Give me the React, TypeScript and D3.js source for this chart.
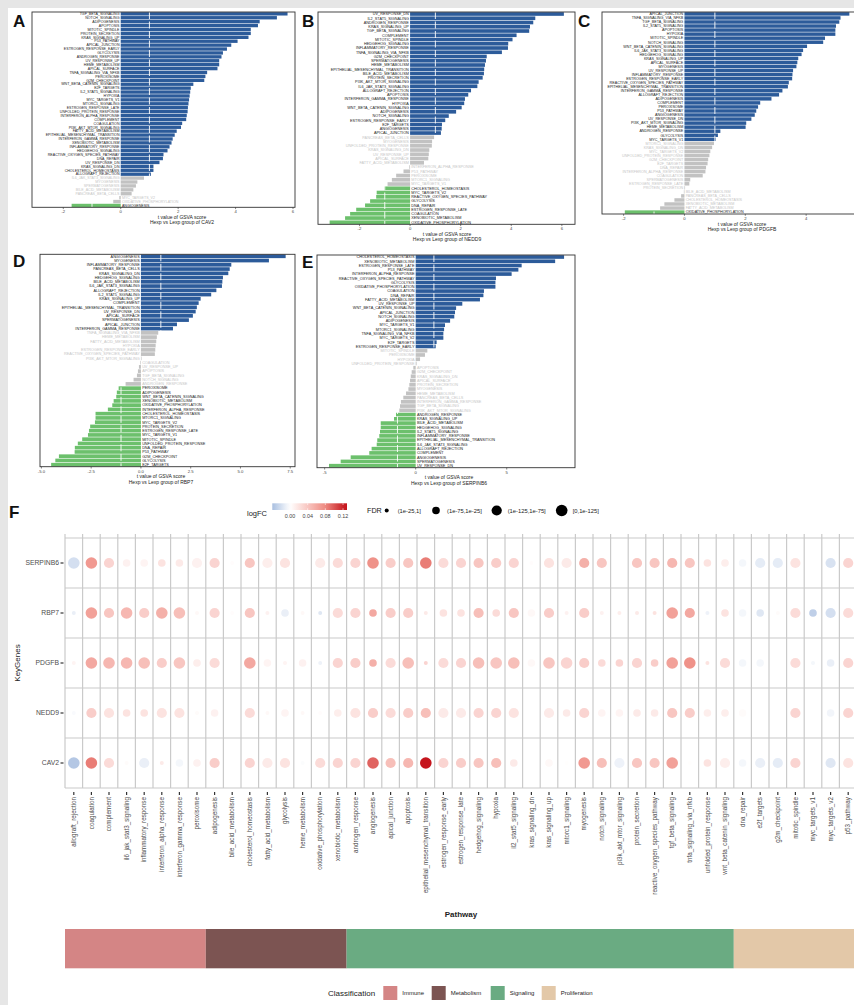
import React from "react";
import * as d3 from "d3";

// ---- panels A-E: GSVA t values (top to bottom) ----
const cav2Terms = ["TGF_BETA_SIGNALING","NOTCH_SIGNALING","ADIPOGENESIS","APOPTOSIS","MITOTIC_SPINDLE","PROTEIN_SECRETION","KRAS_SIGNALING_UP","P53_PATHWAY","APICAL_JUNCTION","ESTROGEN_RESPONSE_EARLY","GLYCOLYSIS","ANDROGEN_RESPONSE","UV_RESPONSE_UP","HEME_METABOLISM","APICAL_SURFACE","TNFA_SIGNALING_VIA_NFKB","PEROXISOME","G2M_CHECKPOINT","WNT_BETA_CATENIN_SIGNALING","E2F_TARGETS","IL2_STAT5_SIGNALING","HYPOXIA","MYC_TARGETS_V1","MTORC1_SIGNALING","ESTROGEN_RESPONSE_LATE","UNFOLDED_PROTEIN_RESPONSE","INTERFERON_ALPHA_RESPONSE","COMPLEMENT","COAGULATION","PI3K_AKT_MTOR_SIGNALING","FATTY_ACID_METABOLISM","EPITHELIAL_MESENCHYMAL_TRANSITION","INTERFERON_GAMMA_RESPONSE","XENOBIOTIC_METABOLISM","INFLAMMATORY_RESPONSE","HEDGEHOG_SIGNALING","REACTIVE_OXYGEN_SPECIES_PATHWAY","DNA_REPAIR","UV_RESPONSE_DN","KRAS_SIGNALING_DN","CHOLESTEROL_HOMEOSTASIS","ALLOGRAFT_REJECTION","IL6_JAK_STAT3_SIGNALING","MYOGENESIS","SPERMATOGENESIS","BILE_ACID_METABOLISM","PANCREAS_BETA_CELLS","MYC_TARGETS_V2","OXIDATIVE_PHOSPHORYLATION","ANGIOGENESIS"];
const cav2T = [5.81,5.44,4.84,4.78,4.53,4.53,4.45,4.07,3.85,3.7,3.56,3.51,3.43,3.43,3.37,3.01,2.95,2.91,2.53,2.44,2.42,2.4,2.38,2.36,2.34,2.33,2.3,2.28,2.14,2.1,1.95,1.88,1.81,1.77,1.7,1.63,1.49,1.47,1.35,1.14,1.14,1.05,0.81,0.58,0.53,0.44,0.38,-0.05,-0.26,-1.71];

const nedd9Terms = ["UV_RESPONSE_DN","IL2_STAT5_SIGNALING","ANDROGEN_RESPONSE","KRAS_SIGNALING_UP","TGF_BETA_SIGNALING","COMPLEMENT","MITOTIC_SPINDLE","HEDGEHOG_SIGNALING","INFLAMMATORY_RESPONSE","TNFA_SIGNALING_VIA_NFKB","G2M_CHECKPOINT","SPERMATOGENESIS","HEME_METABOLISM","EPITHELIAL_MESENCHYMAL_TRANSITION","BILE_ACID_METABOLISM","PROTEIN_SECRETION","PI3K_AKT_MTOR_SIGNALING","IL6_JAK_STAT3_SIGNALING","ALLOGRAFT_REJECTION","APOPTOSIS","INTERFERON_GAMMA_RESPONSE","HYPOXIA","WNT_BETA_CATENIN_SIGNALING","ADIPOGENESIS","NOTCH_SIGNALING","ESTROGEN_RESPONSE_EARLY","E2F_TARGETS","ANGIOGENESIS","APICAL_JUNCTION","PANCREAS_BETA_CELLS","MYOGENESIS","UNFOLDED_PROTEIN_RESPONSE","KRAS_SIGNALING_DN","UV_RESPONSE_UP","APICAL_SURFACE","FATTY_ACID_METABOLISM","INTERFERON_ALPHA_RESPONSE","P53_PATHWAY","PEROXISOME","MTORC1_SIGNALING","MYC_TARGETS_V1","CHOLESTEROL_HOMEOSTASIS","MYC_TARGETS_V2","REACTIVE_OXYGEN_SPECIES_PATHWAY","GLYCOLYSIS","DNA_REPAIR","ESTROGEN_RESPONSE_LATE","COAGULATION","XENOBIOTIC_METABOLISM","OXIDATIVE_PHOSPHORYLATION"];
const nedd9T = [6.08,4.95,4.87,4.74,4.71,4.21,4.05,3.88,3.87,3.63,3.03,3.0,2.96,2.93,2.92,2.87,2.71,2.66,2.41,2.3,2.17,2.14,2.04,1.82,1.53,1.39,1.26,1.25,1.22,0.95,0.87,0.86,0.76,0.74,0.72,0.55,-0.03,-0.26,-0.55,-0.72,-0.89,-1.02,-1.32,-1.34,-1.58,-1.78,-2.13,-2.37,-2.57,-3.18];

const pdgfbTerms = ["APICAL_JUNCTION","TNFA_SIGNALING_VIA_NFKB","TGF_BETA_SIGNALING","IL2_STAT5_SIGNALING","APOPTOSIS","HYPOXIA","MITOTIC_SPINDLE","NOTCH_SIGNALING","WNT_BETA_CATENIN_SIGNALING","IL6_JAK_STAT3_SIGNALING","HEDGEHOG_SIGNALING","KRAS_SIGNALING_UP","APICAL_SURFACE","MYOGENESIS","UV_RESPONSE_UP","INFLAMMATORY_RESPONSE","ESTROGEN_RESPONSE_EARLY","REACTIVE_OXYGEN_SPECIES_PATHWAY","EPITHELIAL_MESENCHYMAL_TRANSITION","INTERFERON_GAMMA_RESPONSE","ALLOGRAFT_REJECTION","ADIPOGENESIS","COMPLEMENT","PEROXISOME","P53_PATHWAY","ANGIOGENESIS","UV_RESPONSE_DN","PI3K_AKT_MTOR_SIGNALING","HEME_METABOLISM","ANDROGEN_RESPONSE","GLYCOLYSIS","MYC_TARGETS_V1","MTORC1_SIGNALING","KRAS_SIGNALING_DN","MYC_TARGETS_V2","UNFOLDED_PROTEIN_RESPONSE","G2M_CHECKPOINT","E2F_TARGETS","DNA_REPAIR","INTERFERON_ALPHA_RESPONSE","COAGULATION","SPERMATOGENESIS","ESTROGEN_RESPONSE_LATE","PROTEIN_SECRETION","BILE_ACID_METABOLISM","PANCREAS_BETA_CELLS","CHOLESTEROL_HOMEOSTASIS","XENOBIOTIC_METABOLISM","FATTY_ACID_METABOLISM","OXIDATIVE_PHOSPHORYLATION"];
const pdgfbT = [5.42,5.13,5.09,4.98,4.96,4.96,4.62,4.56,4.03,3.9,3.85,3.74,3.71,3.68,3.57,3.55,3.54,3.43,3.4,3.22,3.11,2.86,2.49,2.42,2.36,2.31,2.2,2.03,2.01,1.18,1.1,1.03,0.97,0.91,0.85,0.82,0.78,0.76,0.71,0.69,0.6,0.19,0.16,0.02,-0.02,-0.11,-0.33,-0.66,-0.8,-1.96];

const rbp7Terms = ["ANGIOGENESIS","MYOGENESIS","INFLAMMATORY_RESPONSE","PANCREAS_BETA_CELLS","KRAS_SIGNALING_DN","HEDGEHOG_SIGNALING","BILE_ACID_METABOLISM","IL6_JAK_STAT3_SIGNALING","ALLOGRAFT_REJECTION","IL2_STAT5_SIGNALING","KRAS_SIGNALING_UP","COMPLEMENT","EPITHELIAL_MESENCHYMAL_TRANSITION","UV_RESPONSE_DN","APICAL_SURFACE","SPERMATOGENESIS","APICAL_JUNCTION","INTERFERON_GAMMA_RESPONSE","TNFA_SIGNALING_VIA_NFKB","HEME_METABOLISM","FATTY_ACID_METABOLISM","HYPOXIA","ESTROGEN_RESPONSE_EARLY","REACTIVE_OXYGEN_SPECIES_PATHWAY","PI3K_AKT_MTOR_SIGNALING","COAGULATION","UV_RESPONSE_UP","APOPTOSIS","TGF_BETA_SIGNALING","NOTCH_SIGNALING","ANDROGEN_RESPONSE","PEROXISOME","ADIPOGENESIS","WNT_BETA_CATENIN_SIGNALING","XENOBIOTIC_METABOLISM","OXIDATIVE_PHOSPHORYLATION","INTERFERON_ALPHA_RESPONSE","CHOLESTEROL_HOMEOSTASIS","MTORC1_SIGNALING","MYC_TARGETS_V2","PROTEIN_SECRETION","ESTROGEN_RESPONSE_LATE","MYC_TARGETS_V1","MITOTIC_SPINDLE","UNFOLDED_PROTEIN_RESPONSE","DNA_REPAIR","P53_PATHWAY","G2M_CHECKPOINT","GLYCOLYSIS","E2F_TARGETS"];
const rbp7T = [7.27,6.43,4.54,4.46,4.39,4.12,4.09,4.07,3.79,3.53,3.0,2.9,2.81,2.75,2.61,2.41,1.81,1.61,0.87,0.8,0.77,0.74,0.72,0.7,0.03,-0.03,-0.1,-0.15,-0.2,-0.37,-0.77,-1.12,-1.21,-1.24,-1.37,-1.44,-1.66,-2.28,-2.28,-2.31,-2.55,-2.61,-2.66,-2.95,-3.17,-3.32,-3.33,-4.12,-4.3,-4.51];

const serpinb6Terms = ["CHOLESTEROL_HOMEOSTASIS","XENOBIOTIC_METABOLISM","ESTROGEN_RESPONSE_LATE","P53_PATHWAY","INTERFERON_ALPHA_RESPONSE","REACTIVE_OXYGEN_SPECIES_PATHWAY","GLYCOLYSIS","OXIDATIVE_PHOSPHORYLATION","COAGULATION","DNA_REPAIR","FATTY_ACID_METABOLISM","UV_RESPONSE_UP","WNT_BETA_CATENIN_SIGNALING","APICAL_JUNCTION","NOTCH_SIGNALING","ADIPOGENESIS","MYC_TARGETS_V1","MTORC1_SIGNALING","TNFA_SIGNALING_VIA_NFKB","MYC_TARGETS_V2","E2F_TARGETS","ESTROGEN_RESPONSE_EARLY","MITOTIC_SPINDLE","PEROXISOME","HYPOXIA","UNFOLDED_PROTEIN_RESPONSE","APOPTOSIS","G2M_CHECKPOINT","KRAS_SIGNALING_DN","APICAL_SURFACE","PROTEIN_SECRETION","MYOGENESIS","HEME_METABOLISM","PANCREAS_BETA_CELLS","INTERFERON_GAMMA_RESPONSE","TGF_BETA_SIGNALING","PI3K_AKT_MTOR_SIGNALING","ANDROGEN_RESPONSE","KRAS_SIGNALING_UP","BILE_ACID_METABOLISM","HEDGEHOG_SIGNALING","IL2_STAT5_SIGNALING","INFLAMMATORY_RESPONSE","EPITHELIAL_MESENCHYMAL_TRANSITION","IL6_JAK_STAT3_SIGNALING","ALLOGRAFT_REJECTION","COMPLEMENT","ANGIOGENESIS","SPERMATOGENESIS","UV_RESPONSE_DN"];
const serpinb6T = [8.15,7.66,5.82,5.64,5.27,4.41,4.38,4.38,3.75,3.72,3.53,2.56,2.22,2.16,2.12,1.89,1.61,1.56,1.52,1.52,1.15,1.1,0.64,0.51,0.24,0.05,-0.13,-0.22,-0.27,-0.31,-0.35,-0.4,-0.53,-0.68,-0.81,-0.86,-0.9,-1.08,-1.19,-1.92,-1.92,-1.96,-2.0,-2.11,-2.14,-2.42,-2.55,-3.57,-4.12,-4.76];

// ---- panel F: dot plot ----
const genes = ["SERPINB6", "RBP7", "PDGFB", "NEDD9", "CAV2"];
const immunePathways = ["allograft_rejection","coagulation","complement","il6_jak_stat3_signaling","inflammatory_response","interferon_alpha_response","interferon_gamma_response","peroxisome"];
const metabolismPathways = ["adipogenesis","bile_acid_metabolism","cholesterol_homeostasis","fatty_acid_metabolism","glycolysis","heme_metabolism","oxidative_phosphorylation","xenobiotic_metabolism"];
const signalingPathways = ["androgen_response","angiogenesis","apical_junction","apoptosis","epithelial_mesenchymal_transition","estrogen_response_early","estrogen_response_late","hedgehog_signaling","hypoxia","il2_stat5_signaling","kras_signaling_dn","kras_signaling_up","mtorc1_signaling","myogenesis","notch_signaling","pi3k_akt_mtor_signaling","protein_secretion","reactive_oxygen_species_pathway","tgf_beta_signaling","tnfa_signaling_via_nfkb","unfolded_protein_response","wnt_beta_catenin_signaling"];
const proliferationPathways = ["dna_repair","e2f_targets","g2m_checkpoint","mitotic_spindle","myc_targets_v1","myc_targets_v2","p53_pathway"];
const classNames = ["Immune", "Metabolism", "Signaling", "Proliferation"];
const classColors = ["#d48585", "#7c5452", "#6aab82", "#e3c8a8"];

const logFC: Record<string, number[]> = {
  SERPINB6: [-0.02,0.07,0.03,0.01,0.008,0.02,0.015,0.01,0.03,0.002,0.04,0.012,0.02,0,0.015,0.025,0.03,0.075,0.035,0.04,0.085,0.025,0.03,0.04,0.035,0.03,0.002,0.02,0.015,0.055,0.04,0,0.04,0.04,0.05,0.04,0.02,0.012,-0.005,-0.012,-0.012,0.02,0,-0.018,0.03],
  RBP7: [-0.01,0.065,0.04,0.05,0.035,0.055,0.045,0.005,0.03,0.002,0.04,0.01,-0.01,0.005,-0.015,0.025,0.03,0.06,0.035,0.035,0.015,0.02,0.02,0.045,0.025,0.04,0.005,0.035,0.01,0.035,0.01,0.012,0.015,0.02,0.065,0.06,-0.008,0.02,-0.005,-0.015,0.003,0.025,-0.03,-0.02,0.025],
  PDGFB: [0.008,0.06,0.05,0.05,0.045,0.035,0.04,0.012,0.025,0,0.06,0.008,0.008,0.01,-0.008,0.03,0.035,0.055,0.025,0.045,0.03,0.025,0.03,0.045,0.04,0.045,0.005,0.04,0.03,0.035,0.025,0.03,0.03,0.035,0.065,0.075,0.02,0.025,-0.005,-0.005,0,0.025,-0.005,-0.01,0.03],
  NEDD9: [-0.003,0.035,0.02,0.02,0.02,0.02,0.02,0.003,0.01,0,0.025,0.005,0.008,0.005,0.002,0.012,0.02,0.035,0.025,0.035,0.045,0.015,0.015,0.03,0.03,0.02,0,0.015,0.015,0.03,0.008,0.008,0.015,0.015,0.04,0.035,0.012,0.012,0.003,0,0,0.03,0,-0.006,0.03],
  CAV2: [-0.035,0.085,0.025,0.003,-0.01,0.015,-0.005,0.01,0.035,0,0.03,0.015,0.02,-0.002,0.025,0.03,0.03,0.095,0.045,0.05,0.125,0.03,0.035,0.04,0.045,0.015,0,0.005,0.001,0.07,0.045,-0.008,0.04,0.04,0.065,0.001,0.02,0.012,-0.005,-0.01,-0.012,0.03,0,-0.015,0.02],
};
// FDR bin index: 0 (1e-25,1], 1 (1e-75,1e-25], 2 (1e-125,1e-75], 3 [0,1e-125]
const fdrBin: Record<string, number[]> = {
  SERPINB6: [3,3,2,1,1,1,1,2,2,0,2,2,2,0,2,2,2,3,2,2,3,2,2,2,2,2,0,2,2,2,2,0,2,2,2,2,1,1,1,2,2,2,0,2,2],
  RBP7: [0,3,2,3,2,3,3,0,2,0,2,0,1,0,0,2,2,1,2,2,0,1,1,2,1,2,1,2,0,2,0,0,0,0,3,2,0,1,1,1,0,2,1,2,2],
  PDGFB: [0,3,3,3,3,2,3,1,2,0,3,1,0,1,0,2,2,1,2,3,0,2,2,3,3,3,1,3,3,2,1,1,2,1,3,3,0,2,1,1,0,2,0,1,2],
  NEDD9: [0,2,2,1,1,2,2,0,1,0,2,0,1,0,0,1,2,2,2,2,2,2,2,2,2,2,0,2,1,2,1,1,1,1,2,2,1,1,1,0,0,2,0,1,2],
  CAV2: [3,3,2,0,2,0,1,1,2,0,2,2,2,0,2,2,2,3,2,2,3,2,2,2,2,1,0,1,0,3,2,2,2,2,3,0,1,2,1,2,2,2,0,2,2],
};
const fdrLabels = ["(1e-25,1]", "(1e-75,1e-25]", "(1e-125,1e-75]", "[0,1e-125]"];
const colorTicks = [0, 0.04, 0.08, 0.12];

const FONT = "'Liberation Sans', Arial, Helvetica, sans-serif";
const BLUE = "#2c5b9a";
const GREEN = "#6cc06c";
const GRAY = "#c2c2c2";

type PanelProps = {
  terms: string[]; values: number[]; gene: string;
  left: number; right: number; top: number; bottom: number;
  domain: [number, number]; ticks: number[]; fmt: (d: number) => string;
  titleX: number; fs: number;
};

function BarPanel(p: PanelProps) {
  const x = d3.scaleLinear().domain(p.domain).range([p.left, p.right]);
  const y = d3.scaleBand().domain(p.terms).range([p.top, p.bottom]).paddingInner(0.14).paddingOuter(0.04);
  const x0 = x(0);
  const fill = (v: number) => (v > 1 ? BLUE : v < -1 ? GREEN : GRAY);
  return (
    <g>
      {p.terms.map((t, i) => {
        const v = p.values[i];
        return (
          <rect key={t} x={Math.min(x0, x(v))} y={y(t)} width={Math.abs(x(v) - x0)}
            height={y.bandwidth()} fill={fill(v)} />
        );
      })}
      {[1, -1].map((d) => (
        <line key={d} x1={x(d)} x2={x(d)} y1={p.top} y2={p.bottom} stroke="#fff"
          strokeWidth={0.9} strokeDasharray="7,2.5" />
      ))}
      {p.terms.map((t, i) => {
        const v = p.values[i];
        return (
          <text key={"l" + t} x={v >= 0 ? x0 - 1.2 : x0 + 1.2} y={(y(t) as number) + y.bandwidth() / 2}
            dy="0.35em" textAnchor={v >= 0 ? "end" : "start"} fontSize={p.fs}
            fill={Math.abs(v) > 1 ? "#1a1a1a" : "#c6c6c6"}>{t}</text>
        );
      })}
      <rect x={p.left} y={p.top} width={p.right - p.left} height={p.bottom - p.top}
        fill="none" stroke="#333" strokeWidth={0.9} />
      {p.ticks.map((d) => (
        <g key={d}>
          <line x1={x(d)} x2={x(d)} y1={p.bottom} y2={p.bottom + 1.8} stroke="#333" strokeWidth={0.6} />
          <text x={x(d)} y={p.bottom + 6} textAnchor="middle" fontSize={4.2} fill="#444">{p.fmt(d)}</text>
        </g>
      ))}
      <text x={p.titleX} y={p.bottom + 11.5} textAnchor="middle" fontSize={5} fill="#222">t value of GSVA score</text>
      <text x={p.titleX} y={p.bottom + 16.8} textAnchor="middle" fontSize={5} fill="#222">{`Hexp vs Lexp group of ${p.gene}`}</text>
    </g>
  );
}

function DotPlot() {
  const hallmarks = [...immunePathways, ...metabolismPathways, ...signalingPathways, ...proliferationPathways];
  const groups = [immunePathways, metabolismPathways, signalingPathways, proliferationPathways];
  const colW = 17.6;
  const xs = d3.scaleBand().domain(hallmarks).range([65, 65 + colW * hallmarks.length]);
  const ys = d3.scaleBand().domain(genes).range([538, 788]);
  const color = d3.scaleLinear<string>()
    .domain([-0.04, 0, 0.04, 0.08, 0.125])
    .range(["#a9bfe0", "#ffffff", "#f8c6c1", "#ee8a81", "#c5151d"])
    .clamp(true);
  const size = d3.scaleOrdinal<number, number>().domain([0, 1, 2, 3]).range([2, 3.8, 5.1, 5.8]);
  const cbar = d3.scaleLinear().domain([-0.04, 0.129]).range([272.3, 347]);
  const gradStops = d3.range(0, 1.0001, 0.05).map((t) => cbar.domain()[0] + t * (cbar.domain()[1] - cbar.domain()[0]));
  const fdrX = [386.7, 436, 496.7, 561.7];
  const legendY = 510.5;
  const lastX = 65 + colW * hallmarks.length;
  return (
    <g>
      <defs>
        <linearGradient id="lfc" x1="0" x2="1" y1="0" y2="0">
          {gradStops.map((v, i) => (
            <stop key={i} offset={`${(i / (gradStops.length - 1)) * 100}%`} stopColor={color(v)} />
          ))}
        </linearGradient>
      </defs>
      {/* legends */}
      <text x={247} y={516} fontSize={7.5} fill="#222">logFC</text>
      <rect x={cbar.range()[0]} y={503.3} width={cbar.range()[1] - cbar.range()[0]} height={6.7} fill="url(#lfc)" />
      {colorTicks.map((d) => (
        <g key={d}>
          <line x1={cbar(d)} x2={cbar(d)} y1={503.3} y2={505} stroke="#fff" strokeWidth={0.6} />
          <line x1={cbar(d)} x2={cbar(d)} y1={508.3} y2={510} stroke="#fff" strokeWidth={0.6} />
          <text x={cbar(d)} y={518} textAnchor="middle" fontSize={5.4} fill="#444">{d.toFixed(2)}</text>
        </g>
      ))}
      <text x={367} y={legendY} dy="0.35em" fontSize={7.2} fill="#222">FDR</text>
      {fdrLabels.map((l, i) => (
        <g key={l}>
          <circle cx={fdrX[i]} cy={legendY} r={size(i)} fill="#000" />
          <text x={fdrX[i] + 11} y={legendY} dy="0.35em" fontSize={5.8} fill="#222">{l}</text>
        </g>
      ))}
      {/* grid */}
      {hallmarks.map((h) => (
        <line key={"v" + h} x1={xs(h)} x2={xs(h)} y1={534} y2={788} stroke="#cacaca" strokeWidth={1.2} />
      ))}
      <line x1={lastX} x2={lastX} y1={534} y2={788} stroke="#cacaca" strokeWidth={1.2} />
      {[...genes, "end"].map((g, i) => (
        <line key={"h" + g} x1={65} x2={lastX} y1={538 + i * ys.bandwidth()} y2={538 + i * ys.bandwidth()}
          stroke="#cacaca" strokeWidth={1.2} />
      ))}
      {genes.map((g) =>
        hallmarks.map((h, j) => (
          <circle key={g + h} cx={(xs(h) as number) + xs.bandwidth() / 2}
            cy={(ys(g) as number) + ys.bandwidth() / 2}
            r={size(fdrBin[g][j])} fill={color(logFC[g][j])} />
        ))
      )}
      {/* y axis */}
      {genes.map((g) => {
        const cy = (ys(g) as number) + ys.bandwidth() / 2;
        return (
          <g key={"y" + g}>
            <line x1={60.5} x2={63.5} y1={cy} y2={cy} stroke="#333" strokeWidth={1.2} />
            <text x={59} y={cy} dy="0.35em" textAnchor="end" fontSize={6.8} fill="#4d4d4d">{g}</text>
          </g>
        );
      })}
      <text transform="translate(20,663) rotate(-90)" textAnchor="middle" fontSize={8} fill="#222">KeyGenes</text>
      {/* x axis */}
      {hallmarks.map((h) => {
        const cx = (xs(h) as number) + xs.bandwidth() / 2;
        return (
          <g key={"x" + h}>
            <line x1={cx} x2={cx} y1={792} y2={795} stroke="#333" strokeWidth={1.2} />
            <text transform={`translate(${cx},797) rotate(-90)`} dy="0.35em" textAnchor="end"
              fontSize={6.3} fill="#4d4d4d">{h}</text>
          </g>
        );
      })}
      <text x={(65 + lastX) / 2} y={917} textAnchor="middle" fontSize={8} fontWeight="bold" fill="#222">Pathway</text>
      {/* classification strip */}
      {groups.map((grp, i) => (
        <rect key={classNames[i]} x={xs(grp[0])} y={929}
          width={(xs(grp[grp.length - 1]) as number) + xs.bandwidth() - (xs(grp[0]) as number)}
          height={39.3} fill={classColors[i]} />
      ))}
      <text x={328} y={993} dy="0.35em" fontSize={8} fill="#222">Classification</text>
      {classNames.map((c, i) => {
        const lx = [383.3, 431.7, 490.7, 541.7][i];
        return (
          <g key={"lg" + c}>
            <rect x={lx} y={986} width={14} height={14} fill={classColors[i]} />
            <text x={lx + 19} y={993} dy="0.35em" fontSize={6} fill="#222">{c}</text>
          </g>
        );
      })}
    </g>
  );
}

export default function App() {
  const one = (d: number) => d.toFixed(1);
  const int = (d: number) => String(d);
  return (
    <>
      <style>{`body{margin:0}`}</style>
      <svg width={854} height={1005} style={{ display: "block", fontFamily: FONT }}>
        <rect width={854} height={1005} fill="#e6e6e6" />
        <rect x={8} y={8} width={846} height={997} fill="#ffffff" />
        <BarPanel terms={cav2Terms} values={cav2T} gene="CAV2" left={32} right={295} top={12} bottom={207.3}
          domain={[-3.09, 6.07]} ticks={[-2, 0, 2, 4, 6]} fmt={int} titleX={182} fs={3.6} />
        <BarPanel terms={nedd9Terms} values={nedd9T} gene="NEDD9" left={318} right={575} top={12} bottom={224.3}
          domain={[-3.64, 6.52]} ticks={[-2, 0, 2, 4, 6]} fmt={int} titleX={447} fs={3.8} />
        <BarPanel terms={pdgfbTerms} values={pdgfbT} gene="PDGFB" left={602} right={881} top={12} bottom={214}
          domain={[-2.71, 6.46]} ticks={[-2, 0, 2, 4]} fmt={int} titleX={742} fs={3.7} />
        <BarPanel terms={rbp7Terms} values={rbp7T} gene="RBP7" left={40} right={295} top={254.3} bottom={466.7}
          domain={[-5.07, 7.74]} ticks={[-5, -2.5, 0, 2.5, 5, 7.5]} fmt={one} titleX={161} fs={3.8} />
        <BarPanel terms={serpinb6Terms} values={serpinb6T} gene="SERPINB6" left={317} right={575} top={255} bottom={467.7}
          domain={[-5.42, 8.75]} ticks={[-5, 0, 5]} fmt={int} titleX={449} fs={3.8} />
        {[["A", 13, 27], ["B", 302, 27], ["C", 578, 27], ["D", 13, 267], ["E", 302, 268], ["F", 9, 518]].map(([l, x, y]) => (
          <text key={l as string} x={x as number} y={y as number} fontSize={17} fontWeight="bold" fill="#111">{l}</text>
        ))}
        <DotPlot />
      </svg>
    </>
  );
}
